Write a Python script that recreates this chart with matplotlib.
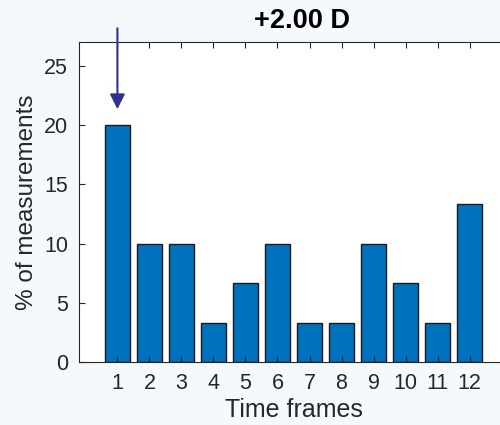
import numpy as np
import matplotlib.pyplot as plt

plt.rcParams['font.family'] = ['Liberation Sans', 'DejaVu Sans']

frames = np.arange(1, 13)
pct = [20, 10, 10, 3.33, 6.67, 10, 3.33, 3.33, 10, 6.67, 3.33, 13.33]
yticks = [0, 5, 10, 15, 20, 25]

fig = plt.figure(figsize=(5, 4.25), dpi=100, facecolor='#f6f9fc')
ax = fig.add_axes([0.158, 0.148, 0.858, 0.753])
ax.bar(frames, pct, width=0.8, color='#0072BD', edgecolor='#1a1a1a', linewidth=1)

ax.set_xlim(-0.2, 13.2)
ax.set_ylim(0, 27)
ax.set_xticks(frames)
ax.set_yticks(yticks)
ax.tick_params(direction='in', top=True, right=False, labelsize=15.5,
               colors='#262626', length=4, pad=8)
for s in ['left', 'top', 'bottom']:
    ax.spines[s].set_color('#262626')
ax.spines['right'].set_visible(False)

ax.set_xlabel('Time frames', fontsize=18, color='#262626', labelpad=3)
ax.set_ylabel('% of measurements', fontsize=17.5, color='#262626', labelpad=4)
ax.text(0.52, 1.025, '+2.00 D', transform=ax.transAxes, ha='center', va='bottom',
        fontsize=19.5, fontweight='bold')

# arrow marking the first frame
ax.annotate('', xy=(1, 21.1), xytext=(1, 28.4),
            arrowprops=dict(arrowstyle='-|>,head_length=0.9,head_width=0.45',
                            color='#2e3192', lw=1.5),
            annotation_clip=False)

fig.savefig('out.png', dpi=100, facecolor=fig.get_facecolor())
